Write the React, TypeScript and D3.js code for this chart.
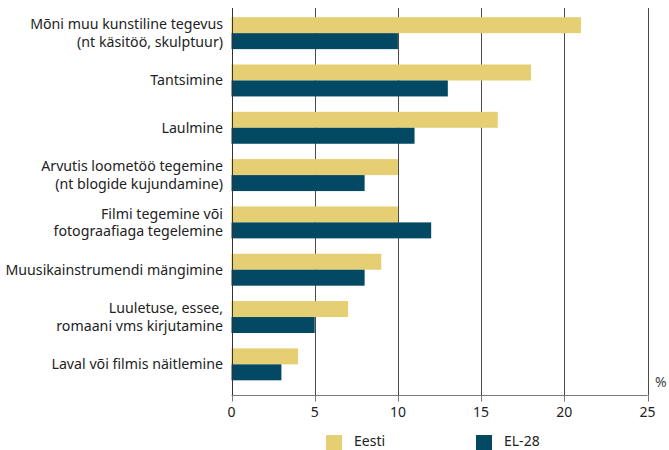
import React from 'react';
import * as d3 from 'd3';

// kategooriad (sildid kahel real, kus vaja)
const categories: string[][] = [
  ['Mõni muu kunstiline tegevus', '(nt käsitöö, skulptuur)'],
  ['Tantsimine'],
  ['Laulmine'],
  ['Arvutis loometöö tegemine', '(nt blogide kujundamine)'],
  ['Filmi tegemine või', 'fotograafiaga tegelemine'],
  ['Muusikainstrumendi mängimine'],
  ['Luuletuse, essee,', 'romaani vms kirjutamine'],
  ['Laval või filmis näitlemine'],
];
const eesti = [21, 18, 16, 10, 10, 9, 7, 4];
const el28 = [10, 13, 11, 8, 12, 8, 5, 3];
const xTicks = [0, 5, 10, 15, 20, 25];
const seriesNames = ['Eesti', 'EL-28'];

const COLORS = ['#e6ce72', '#034963'];
const FONT = '"Noto Sans", sans-serif';

export default function App() {
  const width = 669;
  const height = 450;
  const x = d3.scaleLinear().domain([0, 25]).range([231.5, 647.5]);
  const y = d3
    .scaleBand<number>()
    .domain(d3.range(categories.length))
    .range([9.5, 388])
    .paddingInner(0.325)
    .paddingOuter(0.1625);
  const inner = d3.scaleBand<number>().domain([0, 1]).range([0, y.bandwidth()]);
  const gridTop = 8;
  const axisY = 395.5;

  return (
    <svg width={width} height={height} style={{ position: 'absolute', left: 0, top: 0 }}>
      {/* ruudustik */}
      {xTicks.slice(1).map((t) => (
        <line key={t} x1={Math.round(x(t)) + 0.5} x2={Math.round(x(t)) + 0.5} y1={gridTop} y2={axisY} stroke="#4a4a4a" strokeWidth={1} />
      ))}
      {/* tulbad */}
      {categories.map((_, i) =>
        [eesti[i], el28[i]].map((v, s) => (
          <rect
            key={`${i}-${s}`}
            x={x(0)}
            y={(y(i) as number) + (inner(s) as number)}
            width={x(v) - x(0)}
            height={inner.bandwidth()}
            fill={COLORS[s]}
          />
        ))
      )}
      {/* y telg */}
      <line x1={Math.round(x(0)) + 0.5} x2={Math.round(x(0)) + 0.5} y1={gridTop} y2={axisY} stroke="#333" />
      {categories.map((lines, i) => {
        const cy = (y(i) as number) + y.bandwidth() / 2;
        const lh = 17.5;
        return (
          <text key={i} x={223} textAnchor="end" fontFamily={FONT} fontSize={14.2} fill="#222">
            {lines.map((l, j) => (
              <tspan key={j} x={223} y={cy + (j - (lines.length - 1) / 2) * lh + 5}>
                {l}
              </tspan>
            ))}
          </text>
        );
      })}
      {/* x telg */}
      <line x1={x(0)} x2={x(25)} y1={axisY} y2={axisY} stroke="#777" strokeWidth={1} />
      {xTicks.map((t) => (
        <g key={t}>
          <line x1={Math.round(x(t)) + 0.5} x2={Math.round(x(t)) + 0.5} y1={axisY} y2={axisY + 6} stroke="#777" />
          <text x={x(t)} y={417} textAnchor="middle" fontFamily={FONT} fontSize={14} fill="#222">
            {t}
          </text>
        </g>
      ))}
      <text x={655} y={387} fontFamily={FONT} fontSize={14} fill="#444">
        %
      </text>
      {/* legend */}
      {seriesNames.map((n, s) => (
        <g key={n} transform={`translate(${326 + s * 150},435)`}>
          <rect x={0} y={0} width={16} height={16} fill={COLORS[s]} />
          <text x={28} y={11} fontFamily={FONT} fontSize={14} fill="#222">
            {n}
          </text>
        </g>
      ))}
    </svg>
  );
}
